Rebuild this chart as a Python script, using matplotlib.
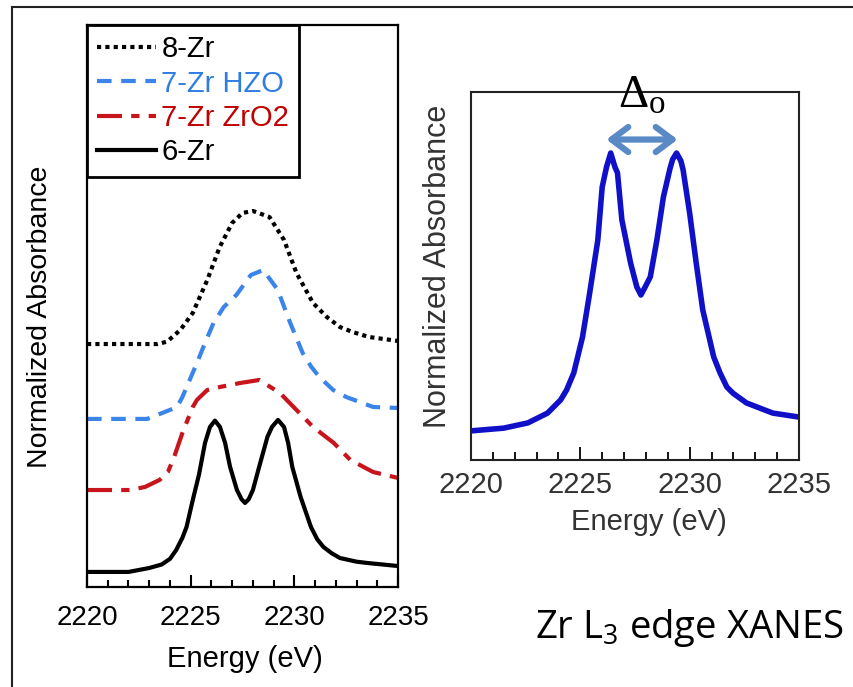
import matplotlib
matplotlib.use("Agg")
import matplotlib.pyplot as plt
from matplotlib.ticker import MultipleLocator
from matplotlib.lines import Line2D

plt.rcParams['font.family'] = ['Liberation Sans', 'DejaVu Sans']
plt.rcParams['mathtext.default'] = 'regular'

# ---------------- data ----------------
# Left panel: stacked Zr L3-edge XANES (offsets included)
e_6zr = [2220.0, 2222.0, 2223.0, 2223.6, 2224.0, 2224.3, 2224.6, 2224.8, 2225.1,
         2225.4, 2225.69, 2225.93, 2226.17, 2226.41, 2226.66, 2226.9, 2227.23,
         2227.45, 2227.62, 2227.8, 2228.0, 2228.3, 2228.7, 2228.92, 2229.21,
         2229.5, 2229.7, 2229.9, 2230.3, 2230.8, 2231.1, 2231.4, 2231.8, 2232.2,
         2233.0, 2233.5, 2235.0]
a_6zr = [0.107, 0.107, 0.135, 0.160, 0.200, 0.263, 0.350, 0.427, 0.619,
         0.800, 1.025, 1.139, 1.184, 1.139, 1.025, 0.854, 0.690,
         0.625, 0.598, 0.625, 0.690, 0.854, 1.068, 1.139, 1.189,
         1.139, 1.025, 0.854, 0.641, 0.427, 0.340, 0.285, 0.240, 0.206,
         0.180, 0.171, 0.149]

e_7zr_zro2 = [2220.0, 2222.1, 2222.8, 2223.5, 2223.9, 2224.2, 2224.6, 2225.1, 2225.3,
              2225.8, 2226.4, 2227.4, 2228.3, 2229.3, 2230.1, 2230.9, 2231.9, 2232.7,
              2233.8, 2235.0]
a_7zr_zro2 = [0.690, 0.690, 0.712, 0.762, 0.818, 0.925, 1.096, 1.281, 1.331,
              1.402, 1.423, 1.452, 1.473, 1.381, 1.260, 1.139, 1.025, 0.904,
              0.818, 0.776]

e_7zr_hzo = [2220.0, 2222.9, 2224.0, 2224.34, 2224.6, 2225.3, 2225.7, 2226.1, 2226.6,
             2227.2, 2227.9, 2228.5, 2229.2, 2229.8, 2230.4, 2230.8, 2231.2, 2231.87,
             2232.5, 2233.8, 2235.0]
a_7zr_hzo = [1.196, 1.196, 1.260, 1.281, 1.352, 1.594, 1.740, 1.879, 1.993,
             2.078, 2.220, 2.256, 2.114, 1.879, 1.665, 1.570, 1.495, 1.402,
             1.352, 1.281, 1.274]

e_8zr = [2220.0, 2223.4, 2223.86, 2224.5, 2225.1, 2225.8, 2226.4, 2227.0, 2227.5,
         2228.0, 2228.8, 2229.5, 2230.1, 2230.9, 2231.56, 2232.2, 2232.8, 2233.6,
         2235.0]
a_8zr = [1.729, 1.729, 1.746, 1.829, 1.950, 2.185, 2.420, 2.591, 2.662,
         2.676, 2.633, 2.470, 2.235, 2.021, 1.922, 1.850, 1.815, 1.779,
         1.751]

# Right panel: single 6-coordinated Zr spectrum
e_right = [2220.0, 2221.5, 2222.6, 2223.5, 2224.1, 2224.37, 2224.7, 2225.1, 2225.4,
           2225.8, 2226.0, 2226.2, 2226.39, 2226.58, 2226.7, 2226.9, 2227.3, 2227.58,
           2227.77, 2227.97, 2228.2, 2228.5, 2228.8, 2229.1, 2229.22, 2229.4,
           2229.6, 2229.7, 2230.0, 2230.3, 2230.6, 2231.1, 2231.39, 2231.7, 2231.98,
           2232.6, 2233.8, 2235.0]
a_right = [0.095, 0.104, 0.121, 0.153, 0.196, 0.228, 0.284, 0.401, 0.532,
           0.717, 0.890, 0.956, 1.001, 0.956, 0.936, 0.783, 0.642, 0.565,
           0.538, 0.565, 0.597, 0.717, 0.858, 0.950, 0.980, 1.001,
           0.975, 0.946, 0.805, 0.642, 0.489, 0.336, 0.284, 0.238, 0.218,
           0.186, 0.153, 0.140]

peak_positions = [2226.39, 2229.40]
xticks = [2220, 2225, 2230, 2235]
labels = ['8-Zr', '7-Zr HZO', '7-Zr ZrO2', '6-Zr']

# ---------------- figure ----------------
fig = plt.figure(figsize=(8.54, 6.87), dpi=100)

# outer frame (left and top edges visible)
fig.add_artist(Line2D([0.0140, 1.0], [0.9898, 0.9898], color='#222222', lw=1.5,
                      transform=fig.transFigure))
fig.add_artist(Line2D([0.0140, 0.0140], [0.0, 0.9898], color='#222222', lw=1.5,
                      transform=fig.transFigure))

# ---- left panel ----
ax1 = fig.add_axes([0.1019, 0.1456, 0.3642, 0.8181])
lw = 3.0
ax1.plot(e_8zr, a_8zr, color='black', lw=lw, linestyle=(0, (1, 1)),
         dash_capstyle='butt', label=labels[0])
ax1.plot(e_7zr_hzo, a_7zr_hzo, color='#3a84ea', lw=lw, linestyle=(0, (3.5, 2.3)),
         label=labels[1])
ax1.plot(e_7zr_zro2, a_7zr_zro2, color='#c8141c', lw=lw, linestyle=(0, (6, 2.2, 2, 2.2)),
         label=labels[2])
ax1.plot(e_6zr, a_6zr, color='black', lw=lw, solid_joinstyle='round', label=labels[3])

ax1.set_xlim(2220, 2235)
ax1.set_ylim(0, 4.0)
ax1.set_yticks([])
ax1.set_xticks(xticks)
ax1.xaxis.set_minor_locator(MultipleLocator(1))
ax1.tick_params(axis='x', which='major', direction='in', length=9, width=1.5,
                labelsize=20, pad=13)
ax1.tick_params(axis='x', which='minor', direction='in', length=5, width=1.5)
for s in ax1.spines.values():
    s.set_linewidth(1.6)
ax1.set_xlabel('Energy (eV)', fontsize=21)
ax1.xaxis.set_label_coords(0.508, -0.103)
ax1.set_ylabel('Normalized Absorbance', fontsize=20.5)
ax1.yaxis.set_label_coords(-0.151, 0.48)
ax1.yaxis.label.set_va('center')

leg = ax1.legend(loc='upper left', bbox_to_anchor=(0, 1), borderaxespad=0,
                 fontsize=21, frameon=True, fancybox=False, framealpha=1,
                 edgecolor='black', handlelength=2.0, handletextpad=0.2,
                 labelspacing=0.22, borderpad=0.35)
leg.get_frame().set_linewidth(2.0)
legend_text_colors = ['black', '#2f7de3', '#c00000', 'black']
for t, c in zip(leg.get_texts(), legend_text_colors):
    t.set_color(c)

# ---- right panel ----
ax2 = fig.add_axes([0.5515, 0.3304, 0.3841, 0.5357])
ax2.plot(e_right, a_right, color='#1010c8', lw=4.0, solid_joinstyle='round',
         solid_capstyle='round')
ax2.set_xlim(2220, 2235)
ax2.set_ylim(0, 1.2)
ax2.set_yticks([])
ax2.set_xticks(xticks)
ax2.xaxis.set_minor_locator(MultipleLocator(1))
ax2.tick_params(axis='x', which='major', direction='in', length=9.5, width=1.3,
                labelsize=21, pad=8, labelcolor='#333333')
ax2.tick_params(axis='x', which='minor', direction='in', length=5.5, width=1.3)
for s in ax2.spines.values():
    s.set_linewidth(1.5)
    s.set_color('#222222')
ax2.set_xlabel('Energy (eV)', fontsize=21, color='#333333')
ax2.xaxis.set_label_coords(0.543, -0.130)
ax2.set_ylabel('Normalized Absorbance', fontsize=22, color='#333333')
ax2.yaxis.set_label_coords(-0.1006, 0.526)
ax2.yaxis.label.set_va('center')

# splitting arrow between the two peaks
ax2.annotate('', xy=(peak_positions[1] + 0.05, 1.045), xytext=(peak_positions[0] - 0.2, 1.045),
             arrowprops=dict(arrowstyle='<->,head_length=0.6,head_width=0.45',
                             color='#5a8ac6', lw=4.5, mutation_scale=20,
                             capstyle='round', joinstyle='round',
                             shrinkA=0, shrinkB=0))
fig.text(0.724, 0.8428, r'Δ$_\mathregular{o}$', fontsize=34,
         family=['Liberation Serif', 'DejaVu Serif'], ha='left', va='baseline')

fig.text(0.6265, 0.0713, r'Zr L$_3$ edge XANES', fontsize=27.5,
         family=['Open Sans', 'DejaVu Sans'], ha='left', va='baseline')

fig.savefig('out.png', dpi=100)
